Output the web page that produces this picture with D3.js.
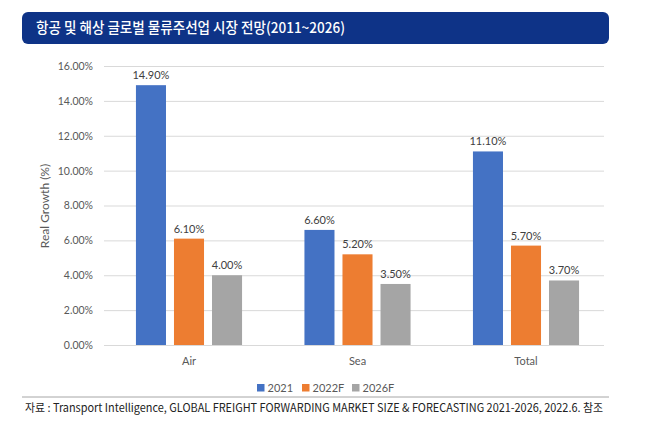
<!DOCTYPE html>
<html>
<head>
<meta charset="utf-8">
<script src="https://cdn.jsdelivr.net/npm/d3@7"></script>
<style>
  body { margin: 0; background: #fff; }
  text { font-family: Lato, "Noto Sans", sans-serif; }
</style>
</head>
<body>
<div id="chart"></div>
<script>
// data
const categories = ["Air", "Sea", "Total"];
const seriesNames = ["2021", "2022F", "2026F"];
const values2021 = [14.9, 6.6, 11.1];
const values2022F = [6.1, 5.2, 5.7];
const values2026F = [4.0, 3.5, 3.7];
const yTicks = [0, 2, 4, 6, 8, 10, 12, 14, 16];
const colors = ["#4472C4", "#ED7D31", "#A5A5A5"];

const titleText = "항공 및 해상 글로벌 물류주선업 시장 전망(2011~2026)";
const sourceText = "자료 : Transport Intelligence, GLOBAL FREIGHT FORWARDING MARKET SIZE & FORECASTING 2021-2026, 2022.6. 참조";

const W = 645, H = 431;
const svg = d3.select("#chart").append("svg")
    .attr("width", W)
    .attr("height", H);

// title bar
svg.append("rect")
    .attr("x", 22).attr("y", 12)
    .attr("width", 587).attr("height", 32)
    .attr("rx", 6)
    .attr("fill", "#0E3387");
svg.append("text")
    .attr("x", 36).attr("y", 33)
    .attr("fill", "#fff")
    .style("font-family", "'Noto Sans CJK KR', sans-serif")
    .style("font-size", "14.5px")
    .style("font-weight", "500")
    .attr("textLength", 309)
    .attr("lengthAdjust", "spacingAndGlyphs")
    .text(titleText);

// scales
const y = d3.scaleLinear().domain([0, 16]).range([345, 66]);
const x0 = d3.scaleBand().domain(categories).range([104.75, 610.25]);
const x1 = d3.scaleBand().domain(seriesNames)
    .range([0, x0.bandwidth()])
    .paddingInner(0.21)
    .paddingOuter(0.82);

// gridlines + y axis
const yAxis = svg.append("g")
    .attr("transform", "translate(104,0)")
    .call(d3.axisLeft(y).tickValues(yTicks)
      .tickSize(-500).tickPadding(11)
      .tickFormat(d => d.toFixed(2) + "%"));
yAxis.select(".domain").remove();
yAxis.selectAll(".tick line").attr("stroke", "#D9D9D9");
yAxis.selectAll(".tick text")
    .attr("fill", "#595959")
    .style("font-size", "10.5px")
    .style("font-family", "Lato, sans-serif");

// y axis title
svg.append("text")
    .attr("transform", "translate(49,206) rotate(-90)")
    .attr("text-anchor", "middle")
    .attr("fill", "#595959")
    .style("font-size", "12px")
    .text("Real Growth (%)");

// bars
const rows = categories.map((c, i) => ({
  category: c,
  vals: [values2021[i], values2022F[i], values2026F[i]].map((v, j) => ({ key: seriesNames[j], value: v, idx: j }))
}));

const groups = svg.append("g").selectAll("g")
  .data(rows)
  .join("g")
    .attr("transform", d => `translate(${x0(d.category)},0)`);

groups.selectAll("rect")
  .data(d => d.vals)
  .join("rect")
    .attr("x", d => x1(d.key))
    .attr("y", d => y(d.value))
    .attr("width", x1.bandwidth())
    .attr("height", d => y(0) - y(d.value))
    .attr("fill", d => colors[d.idx]);

groups.selectAll("text")
  .data(d => d.vals)
  .join("text")
    .attr("x", d => x1(d.key) + x1.bandwidth() / 2)
    .attr("y", d => y(d.value) - 6)
    .attr("text-anchor", "middle")
    .attr("fill", "#404040")
    .style("font-size", "11px")
    .text(d => d.value.toFixed(2) + "%");

// category labels
svg.append("g").selectAll("text")
  .data(categories)
  .join("text")
    .attr("x", d => x0(d) + x0.bandwidth() / 2)
    .attr("y", 365)
    .attr("text-anchor", "middle")
    .attr("fill", "#595959")
    .style("font-size", "11px")
    .text(d => d);

// legend
const legendX = [257, 302, 352];
const legend = svg.append("g").selectAll("g")
  .data(seriesNames)
  .join("g")
    .attr("transform", (d, i) => `translate(${legendX[i]},388)`);
legend.append("rect")
    .attr("x", 0).attr("y", -4)
    .attr("width", 7.5).attr("height", 7.5)
    .attr("fill", (d, i) => colors[i]);
legend.append("text")
    .attr("x", 10.5).attr("y", 4)
    .attr("fill", "#595959")
    .style("font-size", "11px")
    .text(d => d);

// separator and source
svg.append("line")
    .attr("x1", 22).attr("x2", 609)
    .attr("y1", 397).attr("y2", 397)
    .attr("stroke", "#A6A6A6")
    .attr("stroke-width", 1);
svg.append("text")
    .attr("x", 25).attr("y", 412)
    .attr("fill", "#222")
    .style("font-family", "'Noto Sans CJK KR', sans-serif")
    .style("font-size", "11.5px")
    .attr("textLength", 578)
    .attr("lengthAdjust", "spacingAndGlyphs")
    .text(sourceText);
</script>
</body>
</html>
